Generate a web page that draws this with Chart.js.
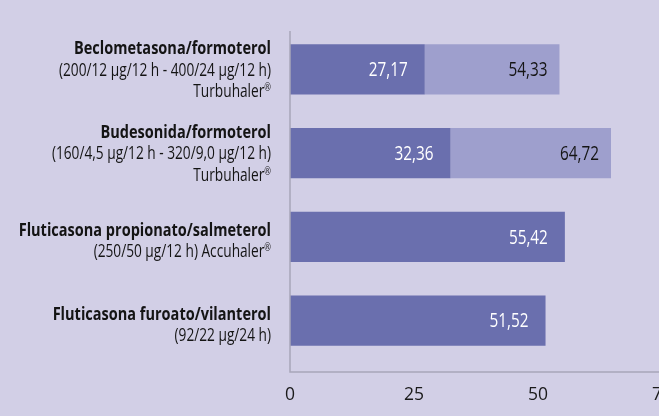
<!DOCTYPE html>
<html><head><meta charset="utf-8">
<script src="https://cdn.jsdelivr.net/npm/chart.js@4"></script>
<style>
html,body{margin:0;padding:0;background:#d2cfe6;overflow:hidden;width:659px;height:416px}
#wrap{position:relative;width:672px;height:416px}
canvas{display:block}
</style></head><body>
<div id="wrap"><canvas id="c" width="672" height="416"></canvas></div>
<script>
const drugNames = [
  "Beclometasona/formoterol",
  "Budesonida/formoterol",
  "Fluticasona propionato/salmeterol",
  "Fluticasona furoato/vilanterol"
];
const doseLines = [
  ["(200/12 µg/12 h - 400/24 µg/12 h)", "Turbuhaler®"],
  ["(160/4,5 µg/12 h - 320/9,0 µg/12 h)", "Turbuhaler®"],
  ["(250/50 µg/12 h) Accuhaler®"],
  ["(92/22 µg/24 h)"]
];
const lowDose = [27.17, 32.36, 55.42, 51.52];
const highDose = [54.33, 64.72, null, null];
const xTicks = [0, 25, 50, 75];

const FAMILY = "'Open Sans','Noto Sans',sans-serif";
const TITLE_FONT = "bold 18.5px " + FAMILY;
const SUB_FONT = "18px " + FAMILY;
const SUP_FONT = "10.5px " + FAMILY;
const VAL_FONT = "20px " + FAMILY;
// condensed look: target rendered widths (px) of reference strings
const TITLE_W = 197, SUB_W = 212, VAL_W = 39;
const DARK = '#6a6fae';
const LIGHT = '#9e9fcd';
const AXIS = '#a8a7b9';

function fmt(v){ return v.toFixed(2).replace('.', ','); }

function textW(ctx, font, t){ ctx.save(); ctx.font = font; const w = ctx.measureText(t).width; ctx.restore(); return w; }
function drawCond(ctx, t, x, y, font, k, align, color){
  ctx.save();
  ctx.font = font;
  ctx.fillStyle = color;
  ctx.textAlign = align;
  ctx.textBaseline = 'middle';
  ctx.translate(x, y);
  ctx.scale(k, 1);
  ctx.fillText(t, 0, 0);
  ctx.restore();
}

const overlay = {
  id: 'overlay',
  afterDatasetsDraw(chart) {
    const ctx = chart.ctx;
    const ca = chart.chartArea;
    const xs = chart.scales.x, ys = chart.scales.y;
    const kT = TITLE_W / textW(ctx, TITLE_FONT, drugNames[0]);
    const kS = SUB_W / textW(ctx, SUB_FONT, doseLines[0][0]);
    const kV = VAL_W / textW(ctx, VAL_FONT, fmt(lowDose[0]));
    // value labels
    const m0 = chart.getDatasetMeta(0), m1 = chart.getDatasetMeta(1);
    m0.data.forEach((b, i) => {
      if (lowDose[i] == null) return;
      drawCond(ctx, fmt(lowDose[i]), b.x - 17, b.y + 1, VAL_FONT, kV, 'right', '#ffffff');
    });
    m1.data.forEach((b, i) => {
      if (highDose[i] == null) return;
      drawCond(ctx, fmt(highDose[i]), b.x - 12, b.y + 1, VAL_FONT, kV, 'right', '#151515');
    });
    // axis lines
    const x0 = xs.getPixelForValue(0);
    ctx.save();
    ctx.strokeStyle = AXIS;
    ctx.lineWidth = 1.5;
    ctx.beginPath();
    ctx.moveTo(x0, ca.top + 3.5);
    ctx.lineTo(x0, ca.bottom + 9.5);
    ctx.lineTo(chart.width, ca.bottom + 9.5);
    ctx.stroke();
    ctx.restore();
    // category labels
    const rx = x0 - 19;
    drugNames.forEach((name, i) => {
      const lines = [name].concat(doseLines[i]);
      const n = lines.length;
      const cy = ys.getPixelForValue(i) + (n === 2 ? 4.5 : 1);
      lines.forEach((t, j) => {
        const y = cy + (j - (n - 1) / 2) * 21.5;
        if (j === 0) {
          drawCond(ctx, t, rx, y, TITLE_FONT, kT, 'right', '#141414');
        } else if (t.endsWith('®')) {
          const main = t.slice(0, -1);
          const rw = textW(ctx, SUP_FONT, '®') * kS;
          drawCond(ctx, '®', rx - rw, y - 4, SUP_FONT, kS, 'left', '#141414');
          drawCond(ctx, main, rx - rw, y, SUB_FONT, kS, 'right', '#141414');
        } else {
          drawCond(ctx, t, rx, y, SUB_FONT, kS, 'right', '#141414');
        }
      });
    });
  }
};

new Chart(document.getElementById('c'), {
  type: 'bar',
  data: {
    labels: drugNames,
    datasets: [
      { label: 'low', data: lowDose, backgroundColor: DARK, grouped: false, order: 1 },
      { label: 'high', data: highDose.map((v, i) => v == null ? null : [lowDose[i], v]), backgroundColor: LIGHT, grouped: false, order: 2 }
    ]
  },
  options: {
    indexAxis: 'y',
    responsive: false,
    devicePixelRatio: 1,
    animation: false,
    categoryPercentage: 1,
    barPercentage: 0.6,
    layout: { padding: { left: 290, right: 10, top: 27.5, bottom: 10.5 } },
    plugins: { legend: { display: false }, tooltip: { enabled: false } },
    scales: {
      x: {
        type: 'linear', min: 0, max: 75,
        grid: { display: false, drawTicks: true, tickLength: 22 },
        border: { display: false },
        afterBuildTicks: (s) => { s.ticks = xTicks.map(v => ({ value: v })); },
        afterFit: (s) => { s.height = 43; },
        ticks: { padding: 0, color: '#1a1a1a', font: { family: FAMILY, size: 17.5 } }
      },
      y: {
        type: 'category',
        grid: { display: false, drawTicks: false },
        border: { display: false },
        ticks: { display: false },
        afterFit: (s) => { s.width = 0; }
      }
    }
  },
  plugins: [overlay]
});
</script>
</body></html>
